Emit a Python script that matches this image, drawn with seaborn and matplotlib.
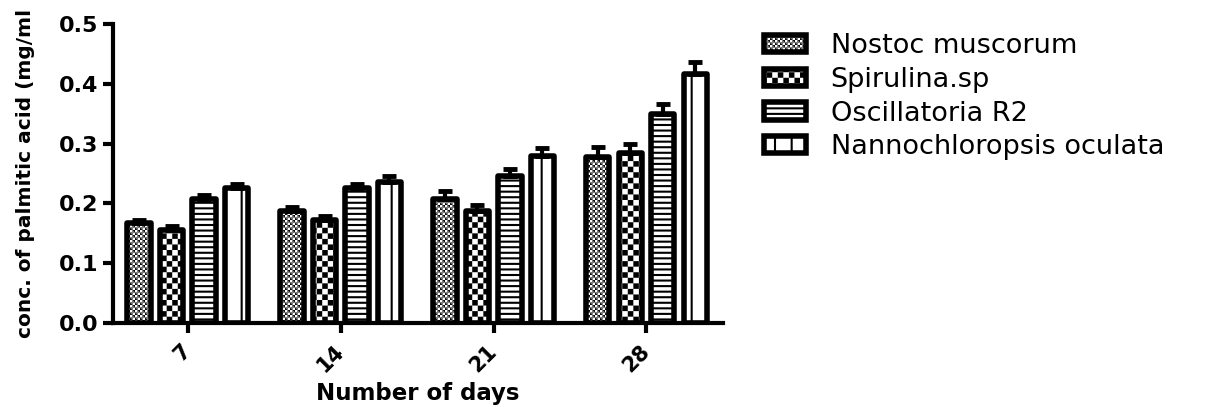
import numpy as np
import pandas as pd
import matplotlib
matplotlib.use('Agg')
import matplotlib.pyplot as plt
import matplotlib.hatch as mhatch
import matplotlib.patches as mpatches
from matplotlib.path import Path
import seaborn as sns

# values
days = ['7', '14', '21', '28']
species = ['Nostoc muscorum', 'Spirulina.sp', 'Oscillatoria R2', 'Nannochloropsis oculata']
nostoc = [0.168, 0.188, 0.208, 0.278]
spirulina = [0.156, 0.172, 0.188, 0.285]
oscillatoria = [0.208, 0.225, 0.245, 0.349]
nanno = [0.225, 0.235, 0.279, 0.416]
nostoc_err = [0.005, 0.006, 0.012, 0.016]
spirulina_err = [0.006, 0.007, 0.010, 0.015]
oscillatoria_err = [0.006, 0.007, 0.013, 0.018]
nanno_err = [0.008, 0.010, 0.013, 0.020]
hatches = ['o', 'O', '---', '|']


# checkerboard hatches (matplotlib has none), 'o' = fine, 'O' = coarse
class CheckerHatch(mhatch.HatchPatternBase):
    char = 'O'
    cells = 18
    pad = 0.0105

    def __init__(self, hatch, density):
        n = hatch.count(self.char) * self.cells
        self.n = n - n % 2
        self.num_vertices = (self.n * self.n // 2) * 5

    def set_vertices_and_codes(self, vertices, codes):
        step = 1.0 / self.n
        k = 0
        for i in range(self.n):
            for j in range(self.n):
                if (i + j) % 2:
                    continue
                x0, y0 = i * step + self.pad, j * step + self.pad
                x1, y1 = (i + 1) * step - self.pad, (j + 1) * step - self.pad
                vertices[k:k + 5] = [[x0, y0], [x1, y0], [x1, y1], [x0, y1], [x0, y0]]
                codes[k:k + 5] = [Path.MOVETO, Path.LINETO, Path.LINETO, Path.LINETO, Path.CLOSEPOLY]
                k += 5


class FineChecker(CheckerHatch):
    char = 'o'
    cells = 40


mhatch._hatch_types = [mhatch.HorizontalHatch, mhatch.VerticalHatch,
                       mhatch.NorthEastHatch, mhatch.SouthEastHatch,
                       FineChecker, CheckerHatch,
                       mhatch.SmallFilledCircles, mhatch.Stars]

sns.set_style('ticks')
plt.rcParams['font.family'] = ['DejaVu Sans']
plt.rcParams['hatch.linewidth'] = 1.5
plt.rcParams['hatch.color'] = 'black'
for k in ['text.color', 'axes.labelcolor', 'xtick.color', 'ytick.color', 'axes.edgecolor']:
    plt.rcParams[k] = 'black'

df = pd.DataFrame({
    'day': days * 4,
    'conc': nostoc + spirulina + oscillatoria + nanno,
    'species': np.repeat(species, 4),
})
errs = [nostoc_err, spirulina_err, oscillatoria_err, nanno_err]

fig = plt.figure(figsize=(12.15, 4.07), dpi=100)
ax = fig.add_axes([0.093, 0.2064, 0.502, 0.7346])

sns.barplot(df, x='day', y='conc', hue='species', order=days, hue_order=species,
            palette={s: 'white' for s in species}, edgecolor='black', linewidth=4,
            width=0.85, gap=0.28, errorbar=None, legend=False, ax=ax)

# hatches + one-sided error bars on each series
for cont, h, err in zip(ax.containers, hatches, errs):
    xs, ys = [], []
    for p in cont.patches:
        p.set_hatch(h)
        p.set_joinstyle('round')
        xs.append(p.get_x() + p.get_width() / 2)
        ys.append(p.get_height())
    ax.errorbar(xs, ys, yerr=[np.zeros(len(err)), err], fmt='none', ecolor='black',
                elinewidth=3, capsize=5, capthick=3.5)

ax.set(xlim=(-0.49, 3.5), ylim=(0, 0.5))
ax.set_yticks([0, 0.1, 0.2, 0.3, 0.4, 0.5])
ax.set_yticklabels(['0.0', '0.1', '0.2', '0.3', '0.4', '0.5'])
ax.tick_params(axis='both', width=3, length=7, labelsize=16, color='black')
ax.tick_params(axis='x', pad=11, labelsize=15)
for lab in ax.get_yticklabels():
    lab.set_fontweight('bold')
for lab in ax.get_xticklabels():
    lab.set_fontweight('bold')
    lab.set_rotation(45)
    lab.set_ha('right')
    lab.set_va('center')
    lab.set_rotation_mode('anchor')

sns.despine(ax=ax)
for side in ['left', 'bottom']:
    ax.spines[side].set_linewidth(3)

ax.set_ylabel('conc. of palmitic acid (mg/ml', fontsize=14.5, fontweight='bold')
ax.yaxis.set_label_coords(-0.128, 0.5)
ax.set_xlabel('Number of days', fontsize=16.5, fontweight='bold')
ax.xaxis.set_label_coords(0.5, -0.198)

handles = [mpatches.Patch(facecolor='white', edgecolor='black', linewidth=4,
                          hatch=h, label=s) for h, s in zip(hatches, species)]
fig.legend(handles=handles, loc='upper left', bbox_to_anchor=(0.629, 0.918),
           frameon=False, fontsize=19.5, borderpad=0, borderaxespad=0,
           handlelength=1.55, handleheight=0.6, handletextpad=0.9, labelspacing=0.28)

fig.savefig('out.png', dpi=100)
